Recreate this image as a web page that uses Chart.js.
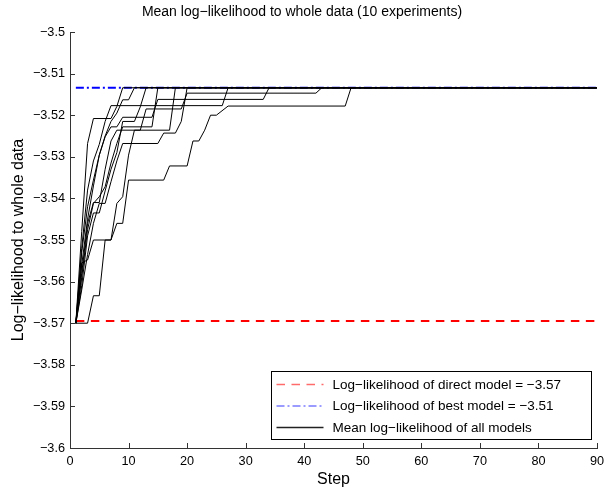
<!DOCTYPE html>
<html>
<head>
<meta charset="utf-8">
<title>Mean log-likelihood</title>
<script src="https://cdn.jsdelivr.net/npm/chart.js@4/dist/chart.umd.min.js"></script>
<style>
  html, body { margin: 0; padding: 0; background: #fff; }
  #plot { display: block; }
</style>
</head>
<body>
<canvas id="plot" width="604" height="490"></canvas>
<script>
// tick values for both axes
const xTickValues = [0, 10, 20, 30, 40, 50, 60, 70, 80, 90];
const yTickValues = [-3.6, -3.59, -3.58, -3.57, -3.56, -3.55, -3.54, -3.53, -3.52, -3.51, -3.5];

// reference levels
const directModel = -3.5695;
const bestModel = -3.5134;
const refSteps = [1, 90];

// per-experiment mean log-likelihood, vertices where the curve changes
const steps1 = [1, 3, 4, 5, 6, 7, 8, 9, 10, 16, 17, 20, 21, 22, 23, 24, 25, 27, 47, 48, 90];
const vals1 = [-3.57, -3.57, -3.5634, -3.5634, -3.55, -3.55, -3.546, -3.546, -3.5356, -3.5356, -3.5322, -3.5322, -3.5262, -3.5262, -3.5236, -3.52, -3.52, -3.5178, -3.5178, -3.5134, -3.5134];

const steps2 = [1, 2, 3, 4, 7, 8, 9, 10, 11, 17, 18, 90];
const vals2 = [-3.57, -3.5555, -3.5548, -3.55, -3.55, -3.5412, -3.5396, -3.5296, -3.5236, -3.5236, -3.5134, -3.5134];

const steps3 = [1, 2, 3, 4, 5, 6, 7, 26, 27, 90];
const vals3 = [-3.57, -3.552, -3.538, -3.531, -3.527, -3.5215, -3.5177, -3.5177, -3.5134, -3.5134];

const steps4 = [1, 2, 3, 4, 5, 6, 7, 8, 9, 14, 15, 33, 34, 90];
const vals4 = [-3.57, -3.556, -3.545, -3.537, -3.5296, -3.5252, -3.5228, -3.5228, -3.5205, -3.5205, -3.5162, -3.5162, -3.5134, -3.5134];

const steps5 = [1, 2, 3, 4, 5, 6, 7, 8, 12, 13, 19, 20, 42, 43, 90];
const vals5 = [-3.57, -3.558, -3.546, -3.541, -3.541, -3.533, -3.5262, -3.5236, -3.5236, -3.5185, -3.5185, -3.5147, -3.5147, -3.5134, -3.5134];

const steps6 = [1, 2, 3, 4, 7, 8, 9, 90];
const vals6 = [-3.57, -3.548, -3.5268, -3.5208, -3.5208, -3.5179, -3.5134, -3.5134];

const steps7 = [1, 2, 3, 4, 5, 6, 7, 8, 9, 10, 11, 90];
const vals7 = [-3.57, -3.553, -3.542, -3.5356, -3.5296, -3.525, -3.5215, -3.5195, -3.5163, -3.5163, -3.5134, -3.5134];

const steps8 = [1, 2, 3, 4, 5, 6, 7, 8, 9, 11, 12, 13, 90];
const vals8 = [-3.57, -3.561, -3.549, -3.5435, -3.5435, -3.5382, -3.533, -3.529, -3.5215, -3.5215, -3.518, -3.5134, -3.5134];

const steps9 = [1, 2, 3, 4, 5, 6, 7, 8, 9, 14, 15, 90];
const vals9 = [-3.57, -3.559, -3.5475, -3.5412, -3.5396, -3.5372, -3.5315, -3.5268, -3.5228, -3.5228, -3.5134, -3.5134];

const steps10 = [1, 2, 3, 4, 5, 6, 7, 8, 9, 15, 16, 18, 19, 20, 90];
const vals10 = [-3.57, -3.562, -3.5535, -3.546, -3.5412, -3.5412, -3.536, -3.531, -3.5268, -3.5268, -3.5243, -3.5243, -3.5215, -3.5134, -3.5134];

const experiments = [
  [steps1, vals1], [steps2, vals2], [steps3, vals3], [steps4, vals4], [steps5, vals5],
  [steps6, vals6], [steps7, vals7], [steps8, vals8], [steps9, vals9], [steps10, vals10]
];

const FONT = "'Liberation Sans', Arial, Helvetica, sans-serif";
const AXIS_COLOR = '#333';
const RED_DASH = [8.5, 6.5];
const BLUE_DASH = [8, 3, 2, 3];

const minus = s => s.replace('-', '\u2212');
const fmt = v => minus(String(parseFloat(v.toFixed(2))));

const toPoints = (xs, ys) => xs.map((x, i) => ({ x: x, y: ys[i] }));

// experiments get the lowest order so they are painted over the reference lines
const datasets = [];
experiments.forEach(([xs, ys], i) => {
  datasets.push({
    label: 'run ' + (i + 1),
    data: toPoints(xs, ys),
    borderColor: '#000',
    borderWidth: 1,
    pointRadius: 0,
    tension: 0,
    fill: false,
    order: 1
  });
});
datasets.push({
  label: 'direct',
  data: toPoints(refSteps, refSteps.map(() => directModel)),
  borderColor: '#ff0000',
  borderWidth: 2,
  borderDash: RED_DASH,
  pointRadius: 0,
  fill: false,
  order: 3
});
datasets.push({
  label: 'best',
  data: toPoints(refSteps, refSteps.map(() => bestModel)),
  borderColor: '#0000ff',
  borderWidth: 2,
  borderDash: BLUE_DASH,
  pointRadius: 0,
  fill: false,
  order: 2
});

const legendItems = [
  { text: 'Log\u2212likelihood of direct model = ' + fmt(directModel), color: '#ff6b6b', dash: RED_DASH },
  { text: 'Log\u2212likelihood of best model = ' + fmt(bestModel), color: '#7a7aff', dash: BLUE_DASH },
  { text: 'Mean log\u2212likelihood of all models', color: '#222', dash: [] }
];

// inward tick marks, like the classic matlab axes
const innerTicks = {
  id: 'innerTicks',
  afterDatasetsDraw(chart) {
    const { ctx, chartArea: a, scales: { x, y } } = chart;
    ctx.save();
    ctx.strokeStyle = AXIS_COLOR;
    ctx.lineWidth = 1;
    ctx.beginPath();
    yTickValues.forEach(v => {
      const py = Math.round(y.getPixelForValue(v)) + 0.5;
      ctx.moveTo(a.left, py);
      ctx.lineTo(a.left + 5, py);
    });
    xTickValues.forEach(v => {
      const px = Math.round(x.getPixelForValue(v)) + 0.5;
      ctx.moveTo(px, a.bottom);
      ctx.lineTo(px, a.bottom - 5);
    });
    ctx.stroke();
    ctx.restore();
  }
};

// boxed legend in the lower right corner of the plot
const boxLegend = {
  id: 'boxLegend',
  afterDraw(chart) {
    const { ctx, chartArea: a } = chart;
    const w = 320, h = 68;
    const left = Math.round(a.right - 6 - w) + 0.5;
    const top = Math.round(a.bottom - 9 - h) + 0.5;
    ctx.save();
    ctx.fillStyle = '#fff';
    ctx.fillRect(left, top, w, h);
    ctx.strokeStyle = '#000';
    ctx.lineWidth = 1;
    ctx.strokeRect(left, top, w, h);
    ctx.font = '13.5px ' + FONT;
    ctx.textBaseline = 'middle';
    legendItems.forEach((item, i) => {
      const cy = top + 13 + i * 21.5;
      ctx.beginPath();
      ctx.strokeStyle = item.color;
      ctx.lineWidth = 1.3;
      ctx.setLineDash(item.dash);
      ctx.moveTo(left + 5, cy);
      ctx.lineTo(left + 52, cy);
      ctx.stroke();
      ctx.setLineDash([]);
      ctx.fillStyle = '#000';
      ctx.fillText(item.text, left + 61, cy + 0.5);
    });
    ctx.restore();
  }
};

new Chart(document.getElementById('plot'), {
  type: 'line',
  data: { datasets: datasets },
  options: {
    responsive: false,
    animation: false,
    parsing: true,
    layout: { padding: { left: 0, right: 0, top: 0, bottom: 0 } },
    plugins: {
      legend: { display: false },
      tooltip: { enabled: false },
      title: {
        display: true,
        text: 'Mean log\u2212likelihood to whole data (10 experiments)',
        color: '#000',
        font: { family: FONT, size: 14, weight: 'normal' },
        padding: { top: 3.5, bottom: 11.7 }
      }
    },
    scales: {
      x: {
        type: 'linear',
        min: 0,
        max: 90,
        afterBuildTicks: s => { s.ticks = xTickValues.map(v => ({ value: v })); },
        afterFit: s => { s.height = 42; s.paddingRight = 7; },
        grid: { display: false, drawTicks: false },
        border: { display: true, color: AXIS_COLOR, width: 1 },
        ticks: {
          color: '#000',
          padding: 6,
          maxRotation: 0,
          font: { family: FONT, size: 12.7 },
          callback: v => String(v)
        },
        title: {
          display: true,
          text: 'Step',
          color: '#000',
          font: { family: FONT, size: 16 },
          padding: { top: 0, bottom: 0.5 }
        }
      },
      y: {
        type: 'linear',
        min: -3.6,
        max: -3.5,
        afterBuildTicks: s => { s.ticks = yTickValues.map(v => ({ value: v })); },
        afterFit: s => { s.width = 70; },
        grid: { display: false, drawTicks: false },
        border: { display: true, color: AXIS_COLOR, width: 1 },
        ticks: {
          color: '#000',
          padding: 5,
          font: { family: FONT, size: 12.7 },
          callback: v => fmt(v)
        },
        title: {
          display: true,
          text: 'Log\u2212likelihood to whole data',
          color: '#000',
          font: { family: FONT, size: 16 },
          padding: { top: 9, bottom: 0 }
        }
      }
    }
  },
  plugins: [innerTicks, boxLegend]
});
</script>
</body>
</html>
